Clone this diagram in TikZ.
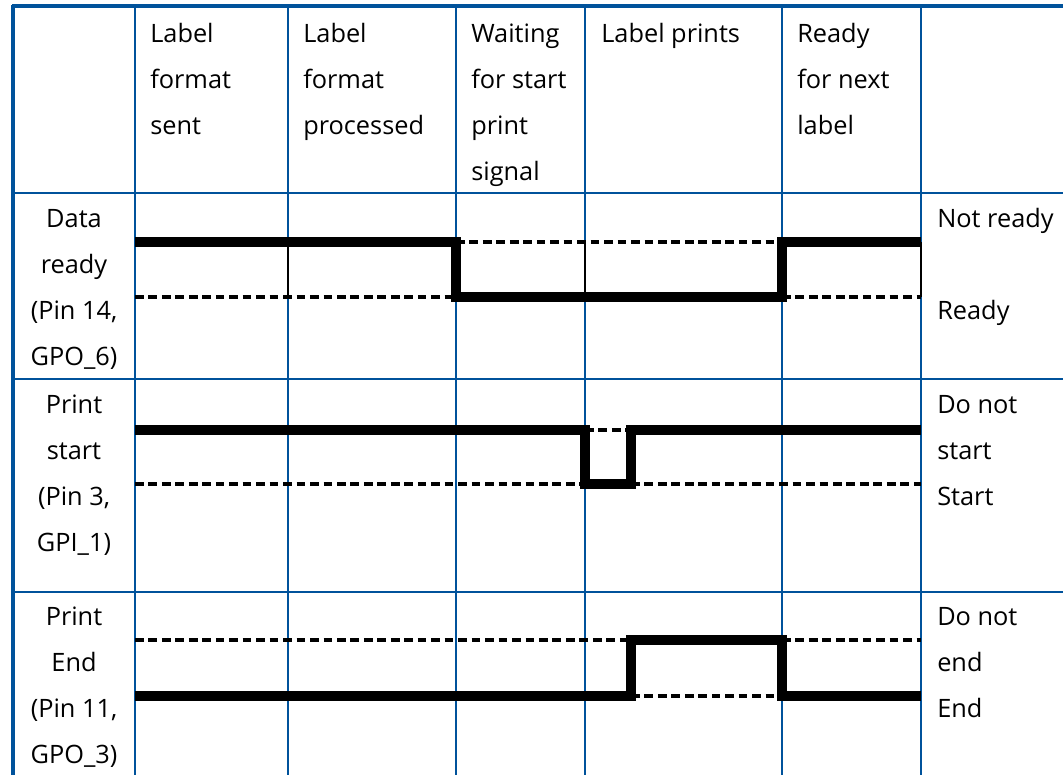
\documentclass[tikz,border=0pt]{standalone}
\usepackage{fontspec}
\setmainfont{Open Sans}
\definecolor{gridblue}{RGB}{0,82,155}
\begin{document}
\begin{tikzpicture}[x=0.75pt,y=-0.75pt,
  gridline/.style={draw=gridblue,line width=2pt},
  gridthick/.style={draw=gridblue,line width=2.8pt},
  sig/.style={draw=black,line width=7pt,line cap=butt,line join=miter},
  ref/.style={draw=black,line width=2.8pt,dash pattern=on 6.5pt off 3.6pt},
  thinblk/.style={draw=black,line width=0.8pt},
  txt/.style={font=\fontsize{19}{23}\selectfont,inner sep=0pt,anchor=base west},
  ctxt/.style={font=\fontsize{19}{23}\selectfont,inner sep=0pt,anchor=base}]
\useasboundingbox (0,0) rectangle (1063,775);
\fill[white] (0,0) rectangle (1063,775);
% grid
\foreach \y in {193,379,592} \draw[gridline] (13,\y) -- (1063,\y);
\foreach \x in {135,288,456,585,782,921} \draw[gridline] (\x,6) -- (\x,775);
\draw[gridthick] (12,6) -- (1063,6);
\draw[gridthick] (13,5) -- (13,775);
% row 1 thin black cell borders between levels
\fill[white] (286,244) rectangle (290,295);
\fill[white] (583,244) rectangle (587,295);
\fill[white] (919,244) rectangle (923,295);
\draw[thinblk] (288,242) -- (288,297);
\draw[thinblk] (585,242) -- (585,297);
\draw[thinblk] (921,242) -- (921,297);
% Row 1: Data ready
\draw[ref] (456,242) -- (782,242);
\draw[ref] (135,297) -- (456,297);
\draw[ref] (782,297) -- (921,297);
\draw[sig] (135,242) -- (456,242) -- (456,297) -- (782,297) -- (782,242) -- (921,242);
% Row 2: Print start
\draw[ref] (585,430) -- (631,430);
\draw[ref] (135,484) -- (585,484);
\draw[ref] (631,484) -- (921,484);
\draw[sig] (135,430) -- (585,430) -- (585,484) -- (631,484) -- (631,430) -- (921,430);
% Row 3: Print End
\draw[ref] (135,640) -- (631,640);
\draw[ref] (782,640) -- (921,640);
\draw[ref] (631,696) -- (782,696);
\draw[sig] (135,696) -- (631,696) -- (631,640) -- (782,640) -- (782,696) -- (921,696);
% header texts
\node[txt] (h1a) at (150,42) {Label};
\node[txt] (h1b) at (150,88) {format};
\node[txt] (h1c) at (150,134) {sent};
\node[txt] (h2a) at (303,42) {Label};
\node[txt] (h2b) at (303,88) {format};
\node[txt] (h2c) at (303,134) {processed};
\node[txt] (h3a) at (471,42) {Waiting};
\node[txt] (h3b) at (471,88) {for start};
\node[txt] (h3c) at (471,134) {print};
\node[txt] (h3d) at (471,180) {signal};
\node[txt] (h4a) at (601,42) {Label prints};
\node[txt] (h5a) at (797,42) {Ready};
\node[txt] (h5b) at (797,88) {for next};
\node[txt] (h5c) at (797,134) {label};
% left column
\node[ctxt] (l1a) at (74,227) {Data};
\node[ctxt] (l1b) at (74,273) {ready};
\node[ctxt] (l1c) at (74,319) {(Pin 14,};
\node[ctxt] (l1d) at (74,365) {GPO\_6)};
\node[ctxt] (l2a) at (74,413) {Print};
\node[ctxt] (l2b) at (74,459) {start};
\node[ctxt] (l2c) at (74,505) {(Pin 3,};
\node[ctxt] (l2d) at (74,551) {GPI\_1)};
\node[ctxt] (l3a) at (74,625) {Print};
\node[ctxt] (l3b) at (74,671) {End};
\node[ctxt] (l3c) at (74,717) {(Pin 11,};
\node[ctxt] (l3d) at (74,763) {GPO\_3)};
% right column
\node[txt] (r1a) at (937,227) {Not ready};
\node[txt] (r1b) at (937,319) {Ready};
\node[txt] (r2a) at (937,413) {Do not};
\node[txt] (r2b) at (937,459) {start};
\node[txt] (r2c) at (937,505) {Start};
\node[txt] (r3a) at (937,625) {Do not};
\node[txt] (r3b) at (937,671) {end};
\node[txt] (r3c) at (937,717) {End};
\end{tikzpicture}
\end{document}
